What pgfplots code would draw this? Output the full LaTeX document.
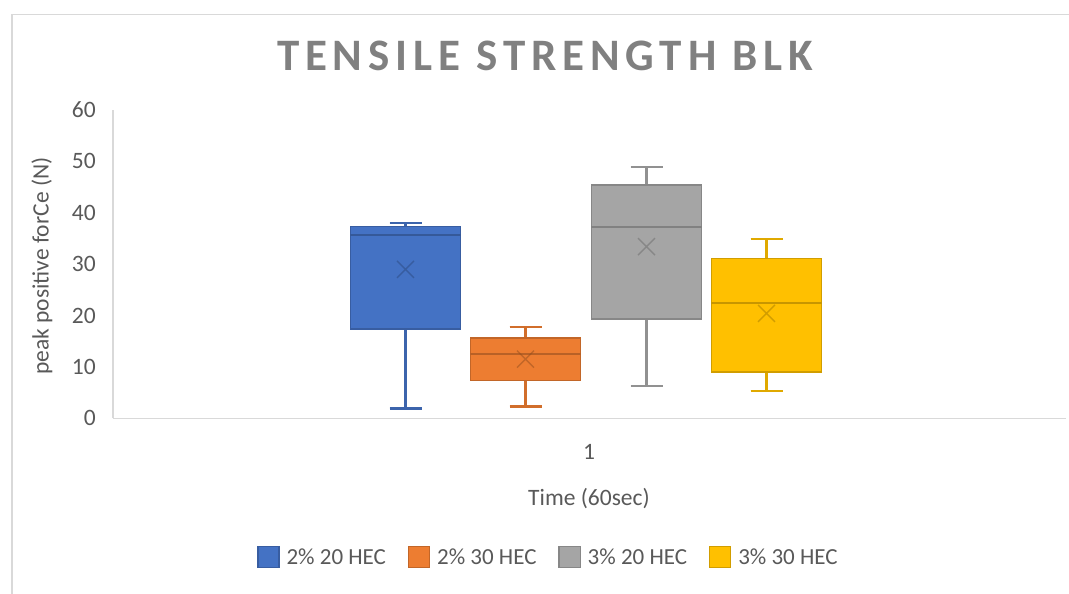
\documentclass[border=0pt]{standalone}
\usepackage{fontspec}
\setmainfont{Carlito}
\newfontfamily\titlefont[LetterSpace=13]{Carlito}
\usepackage{pgfplots}
\usepgfplotslibrary{statistics}
\pgfplotsset{compat=1.18}
\definecolor{cBlue}{HTML}{4472C4}
\definecolor{cOrange}{HTML}{ED7D31}
\definecolor{cGray}{HTML}{A5A5A5}
\definecolor{cGold}{HTML}{FFC000}
\definecolor{txt}{HTML}{595959}
\definecolor{frame}{HTML}{D9D9D9}

\pgfplotsset{
  bx/.style={
    fill=#1, draw=#1!82!black, line width=1.3pt,
    boxplot/draw direction=y,
    boxplot/every box/.style={fill=#1, draw=#1!82!black, line width=1.4pt},
    boxplot/every median/.style={draw=#1!78!black, line width=2pt},
    boxplot/every whisker/.style={draw=#1!88!black, line width=2.1pt},
    boxplot/box extend=110.5, boxplot/whisker extend=32,
  },
  avg/.style={only marks, mark=x, mark size=12pt, forget plot,
    mark options={draw=#1!60!black, draw opacity=0.45, line width=1.4pt}},
}

\begin{document}
\begin{tikzpicture}[x=1pt,y=1pt]
\path[use as bounding box] (0,0) rectangle (1069,594);
\draw[frame, line width=1.4pt] (12,0) -- (12,579.5) -- (1069,579.5);
\begin{axis}[
  at={(113pt,175.7pt)}, anchor=south west,
  scale only axis, width=953pt, height=308.3pt,
  xmin=113, xmax=1066, ymin=0, ymax=60,
  axis x line*=bottom, axis y line*=left,
  axis line style={draw=frame, line width=1.2pt, -},
  ytick={0,10,...,60}, xtick={589}, xticklabels={1},
  major tick length=0pt,
  /pgf/number format/assume math mode=true,
  tick label style={font=\fontsize{23.5}{28}\selectfont, text=txt},
  yticklabel style={anchor=east, inner sep=0pt, xshift=-17pt},
  xticklabel style={anchor=north, inner sep=0pt, yshift=-26pt},
  xlabel={Time (60sec)},
  ylabel={peak positive forCe (N)},
  label style={font=\fontsize{23.5}{28}\selectfont, text=txt},
  xlabel style={at={(axis cs:589,-15.6)}, anchor=center},
  ylabel style={at={(axis cs:42,29.6)}, anchor=center, rotate=0},
  title={\titlefont\bfseries TENSILE STRENGTH BLK},
  title style={at={(axis cs:545,69.4)}, anchor=center,
    font=\fontsize{45}{50}\selectfont, text=black!50},
  clip=false,
  legend columns=4,
  legend style={at={(axis cs:549,-27.0)}, anchor=center, draw=none,
    font=\fontsize{23}{28}\selectfont, text=txt,
    /tikz/every even column/.append style={column sep=19pt},
    /tikz/every odd column/.append style={column sep=4pt},
    nodes={inner sep=3pt}},
  legend image code/.code={\draw[#1, line width=1.2pt] (0pt,-10.5pt) rectangle (21pt,10.5pt);},
]
\addplot[bx=cBlue, boxplot prepared={draw position=405.5,
  lower whisker=1.9, lower quartile=17.4, median=35.7,
  upper quartile=37.3, upper whisker=38.0}, forget plot] coordinates {};
\addplot[bx=cOrange, boxplot prepared={draw position=525.5,
  lower whisker=2.3, lower quartile=7.3, median=12.5,
  upper quartile=15.6, upper whisker=17.8}, forget plot] coordinates {};
\addplot[bx=cGray, boxplot prepared={draw position=646.5,
  lower whisker=6.2, lower quartile=19.3, median=37.2,
  upper quartile=45.4, upper whisker=48.9}, forget plot] coordinates {};
\addplot[bx=cGold, boxplot prepared={draw position=766.5,
  lower whisker=5.4, lower quartile=9.0, median=22.5,
  upper quartile=31.1, upper whisker=34.9}, forget plot] coordinates {};

% means
\addplot[avg=cBlue] coordinates {(405.5,29.0)};
\addplot[avg=cOrange] coordinates {(525.5,11.5)};
\addplot[avg=cGray] coordinates {(646.5,33.4)};
\addplot[avg=cGold] coordinates {(766.5,20.4)};

\addlegendimage{fill=cBlue, draw=cBlue!82!black}
\addlegendimage{fill=cOrange, draw=cOrange!82!black}
\addlegendimage{fill=cGray, draw=cGray!82!black}
\addlegendimage{fill=cGold, draw=cGold!82!black}
\legend{2\% 20 HEC, 2\% 30 HEC, 3\% 20 HEC, 3\% 30 HEC}
\end{axis}
\end{tikzpicture}
\end{document}
